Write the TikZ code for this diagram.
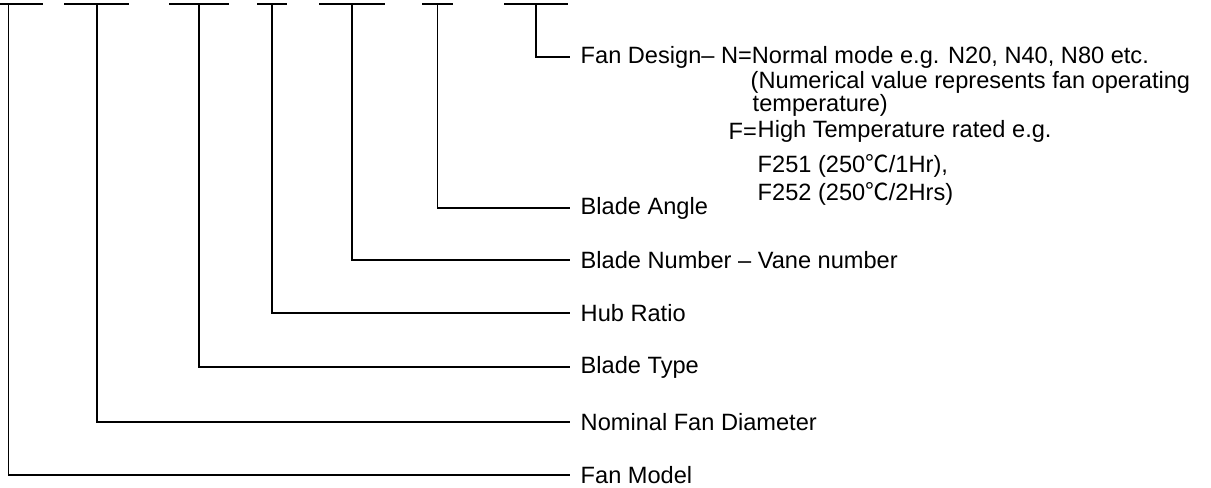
\documentclass[tikz,border=0pt]{standalone}
\usepackage{fontspec}
\setmainfont{Liberation Sans}
\newfontfamily\cjk{Noto Sans CJK SC}
\newcommand{\degC}{{\cjk ℃}}
\begin{document}
\begin{tikzpicture}
	[
		x=0.75pt, y=-0.75pt,
		line width=1.1pt,
		Bar/.style={draw},
		Lead/.style={draw},
		Label/.style={anchor=west, inner sep=0pt, font=\fontsize{17.7}{20}\selectfont}
	]
	
	\useasboundingbox (0,0) rectangle (1211,487);
	
	% code segments along the top
	\coordinate (modelL) at (-26,4);   \coordinate (modelR) at (43,4);   \coordinate (model) at (8.5,4);
	\coordinate (diaL) at (64,4);      \coordinate (diaR) at (129,4);    \coordinate (dia) at (97,4);
	\coordinate (typeL) at (169,4);    \coordinate (typeR) at (229,4);   \coordinate (type) at (199,4);
	\coordinate (hubL) at (257,4);     \coordinate (hubR) at (287,4);    \coordinate (hub) at (272,4);
	\coordinate (numL) at (319,4);     \coordinate (numR) at (385,4);    \coordinate (num) at (352,4);
	\coordinate (angleL) at (422,4);   \coordinate (angleR) at (453,4);  \coordinate (angle) at (437.5,4);
	\coordinate (designL) at (504,4);  \coordinate (designR) at (568,4); \coordinate (design) at (536,4);
	
	\draw [Bar] (modelL) -- (modelR);
	\draw [Bar] (diaL) -- (diaR);
	\draw [Bar] (typeL) -- (typeR);
	\draw [Bar] (hubL) -- (hubR);
	\draw [Bar] (numL) -- (numR);
	\draw [Bar] (angleL) -- (angleR);
	\draw [Bar] (designL) -- (designR);
	
	% labels
	\node [Label] (Design) at (580,57) {Fan Design– N=Normal mode e.g. N20, N40, N80 etc.};
	\node [Label] (Numerical) at (750,82) {(Numerical value represents fan operating};
	\node [Label] (Temp) at (752,105) {temperature)};
	\node [Label] (FEq) at (728,131) {F=};
	\node [Label] (High) at (757,131) {High Temperature rated e.g.};
	\node [Label] (FOne) at (757,166) {F251 (250\degC/1Hr),};
	\node [Label] (FTwo) at (757,194) {F252 (250\degC/2Hrs)};
	\node [Label] (Angle) at (580,208) {Blade Angle};
	\node [Label] (Number) at (580,260) {Blade Number – Vane number};
	\node [Label] (Hub) at (580,313) {Hub Ratio};
	\node [Label] (Type) at (580,367) {Blade Type};
	\node [Label] (Dia) at (580,422) {Nominal Fan Diameter};
	\node [Label] (Model) at (580,475) {Fan Model};
	
	% leaders
	\draw [Lead] (design) |- ([xshift=-7.5pt]Design.west);
	\draw [Lead] (angle) |- ([xshift=-7.5pt]Angle.west);
	\draw [Lead] (num) |- ([xshift=-7.5pt]Number.west);
	\draw [Lead] (hub) |- ([xshift=-7.5pt]Hub.west);
	\draw [Lead] (type) |- ([xshift=-7.5pt]Type.west);
	\draw [Lead] (dia) |- ([xshift=-7.5pt]Dia.west);
	\draw [Lead] (model) |- ([xshift=-7.5pt]Model.west);
\end{tikzpicture}
\end{document}
